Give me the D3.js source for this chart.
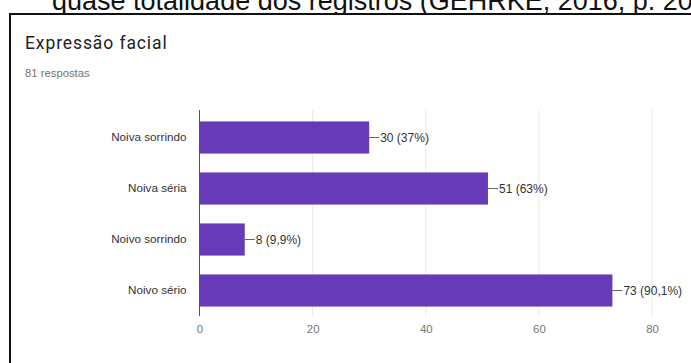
<!DOCTYPE html>
<html>
<head>
<meta charset="utf-8">
<script src="https://cdn.jsdelivr.net/npm/d3@7"></script>
<style>
  html, body { margin: 0; padding: 0; background: #fff; }
  svg { display: block; }
</style>
</head>
<body>
<svg id="chart" width="691" height="363"></svg>
<script>
const categories = ["Noiva sorrindo", "Noiva séria", "Noivo sorrindo", "Noivo sério"];
const values = [30, 51, 8, 73];
const valueLabels = ["30 (37%)", "51 (63%)", "8 (9,9%)", "73 (90,1%)"];
const xTicks = [0, 20, 40, 60, 80];
const chartTitle = "Expressão facial";
const subtitle = "81 respostas";
const captionText = "quase totalidade dos registros (GEHRKE, 2016, p. 205)";

const svg = d3.select("#chart");
const font = "'Liberation Sans', Arial, Helvetica, sans-serif";

// caption of the surrounding document (cut off at top, as in the reference)
svg.append("text")
  .attr("x", 52).attr("y", 10)
  .attr("font-family", font)
  .attr("font-size", 27)
  .attr("fill", "#111")
  .text(captionText);

// frame
svg.append("rect")
  .attr("x", 10).attr("y", 14)
  .attr("width", 700).attr("height", 400)
  .attr("fill", "#fff")
  .attr("stroke", "#111").attr("stroke-width", 2);

svg.append("text")
  .attr("x", 25).attr("y", 48.5)
  .attr("font-family", "Roboto, 'Liberation Sans', Arial, sans-serif")
  .attr("font-size", 17.5)
  .attr("letter-spacing", 0.9)
  .attr("fill", "#212121")
  .text(chartTitle);

svg.append("text")
  .attr("x", 25).attr("y", 76.5)
  .attr("font-family", font).attr("font-size", 11.3)
  .attr("fill", "#757575")
  .text(subtitle);

const x = d3.scaleLinear().domain([0, 80]).range([199.5, 652]);
const y = d3.scaleBand().domain(categories).range([112, 316])
  .paddingInner(0.37).paddingOuter(0.185);

// gridlines
svg.append("g")
  .selectAll("line")
  .data(xTicks.filter(d => d !== 0))
  .join("line")
  .attr("x1", d => x(d)).attr("x2", d => x(d))
  .attr("y1", 110).attr("y2", 316)
  .attr("stroke", "#e8e8e8").attr("stroke-width", 1);

// x axis tick labels
const xAxis = d3.axisBottom(x).tickValues(xTicks).tickSize(0).tickPadding(9);
const gx = svg.append("g").attr("transform", "translate(0,316)").call(xAxis);
gx.select(".domain").remove();
gx.selectAll("text")
  .attr("font-family", font).attr("font-size", 11.4)
  .attr("fill", "#757575");

// bars
svg.append("g")
  .selectAll("rect")
  .data(categories)
  .join("rect")
  .attr("x", x(0))
  .attr("y", d => y(d))
  .attr("width", (d, i) => x(values[i]) - x(0))
  .attr("height", y.bandwidth())
  .attr("fill", "#673ab7");

// baseline axis
svg.append("line")
  .attr("x1", x(0)).attr("x2", x(0))
  .attr("y1", 110).attr("y2", 316)
  .attr("stroke", "#555").attr("stroke-width", 1);

// category labels
const yAxis = d3.axisLeft(y).tickSize(0).tickPadding(13);
const gy = svg.append("g").attr("transform", `translate(${x(0)},0)`).call(yAxis);
gy.select(".domain").remove();
gy.selectAll("text")
  .attr("font-family", font).attr("font-size", 11.7)
  .attr("fill", "#333");

// value annotations
const ann = svg.append("g").selectAll("g").data(categories).join("g");
ann.append("line")
  .attr("x1", (d, i) => x(values[i]))
  .attr("x2", (d, i) => x(values[i]) + 10)
  .attr("y1", d => y(d) + y.bandwidth() / 2)
  .attr("y2", d => y(d) + y.bandwidth() / 2)
  .attr("stroke", "#666").attr("stroke-width", 1);
ann.append("text")
  .attr("x", (d, i) => x(values[i]) + 11)
  .attr("y", d => y(d) + y.bandwidth() / 2)
  .attr("dy", "0.35em")
  .attr("font-family", font).attr("font-size", 12)
  .attr("fill", "#333")
  .text((d, i) => valueLabels[i]);
</script>
</body>
</html>
